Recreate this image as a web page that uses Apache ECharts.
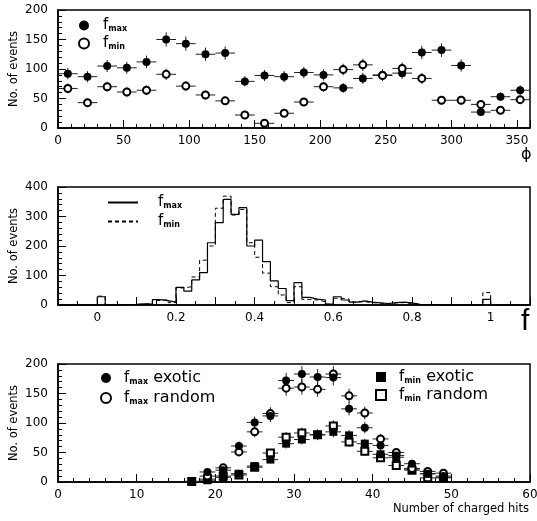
<!DOCTYPE html>
<html>
<head>
<meta charset="utf-8">
<script src="https://cdn.jsdelivr.net/npm/echarts@6/dist/echarts.min.js"></script>
<style>
  html, body { margin: 0; padding: 0; background: #fff; }
  #main { width: 537px; height: 521px; }
</style>
</head>
<body>
<div id="main"></div>
<script>
// panel 1 : azimuth distribution, 15 degree bins
var phiBins = [7.5, 22.5, 37.5, 52.5, 67.5, 82.5, 97.5, 112.5, 127.5, 142.5, 157.5, 172.5,
               187.5, 202.5, 217.5, 232.5, 247.5, 262.5, 277.5, 292.5, 307.5, 322.5, 337.5, 352.5];
var phiFmax = [92, 87, 105, 102, 112, 150, 143, 125, 127, 79, 89, 87,
               94, 90, 68, 84, 90, 93, 128, 132, 106, 27, 53, 64];
var phiFmin = [67, 43, 70, 61, 64, 91, 71, 56, 46, 22, 8, 25,
               44, 70, 99, 107, 89, 101, 84, 47, 47, 40, 30, 48];

// panel 2 : f histogram, bins of 0.02 starting at -0.1
var fBinStart = -0.1, fBinWidth = 0.02;
var fmaxCounts = [0, 0, 0, 0, 0,
                  28, 0, 0, 1, 2, 4, 3, 18, 15, 10,
                  60, 47, 85, 110, 211, 279, 358, 307, 330, 200,
                  220, 147, 82, 56, 15, 76, 26, 20, 17, 3,
                  28, 17, 10, 14, 10, 7, 5, 8, 10, 7,
                  2, 1, 1, 0, 0, 0, 0, 0, 0, 19,
                  0, 0, 0, 0, 0];
var fminCounts = [0, 0, 0, 0, 0,
                  30, 0, 0, 1, 2, 3, 4, 15, 18, 8,
                  58, 62, 95, 152, 200, 328, 369, 305, 324, 211,
                  162, 108, 62, 34, 8, 62, 19, 17, 11, 3,
                  23, 20, 10, 11, 8, 6, 5, 7, 8, 5,
                  2, 1, 0, 0, 0, 0, 0, 0, 0, 42,
                  0, 0, 0, 0, 0];

// panel 3 : number of charged hits, bins of 2
var hitBins    = [13, 15, 17, 19, 21, 23, 25, 27, 29, 31, 33, 35, 37, 39, 41, 43, 45, 47, 49];
var fmaxExotic = [null, null, null, 17, 20, 61, 101, 112, 172, 183, 178, 177, 124, 92, 62, 45, 31, 14, 10];
var fmaxRandom = [null, null, null, 10, 24, 51, 85, 116, 159, 161, 157, 183, 146, 117, 73, 50, 23, 18, 15];
var fminExotic = [null, null, 1, 3, 8, 14, 27, 38, 65, 72, 80, 85, 79, 65, 47, 42, 22, 14, 8];
var fminRandom = [null, null, 1, 5, 10, 12, 25, 49, 76, 83, 80, 95, 68, 52, 41, 28, 20, 7, 7];

var FONT = 'DejaVu Sans';

function pts(xs, ys) {
    var out = [];
    for (var i = 0; i < xs.length; i++) {
        if (ys[i] != null) out.push([xs[i], ys[i], Math.sqrt(ys[i])]); // poisson error
    }
    return out;
}

function histo(counts) {
    var out = [];
    for (var i = 0; i < counts.length; i++) out.push([fBinStart + i * fBinWidth, counts[i]]);
    out.push([fBinStart + counts.length * fBinWidth, counts[counts.length - 1]]);
    return out;
}

function errRender(xHalf) {
    return function (params, api) {
        var x = api.value(0), y = api.value(1), e = api.value(2);
        var l = api.coord([x - xHalf, y]), r = api.coord([x + xHalf, y]);
        var t = api.coord([x, y + e]), b = api.coord([x, Math.max(y - e, 0)]);
        var st = { stroke: '#222', lineWidth: 1 };
        return {
            type: 'group',
            children: [
                { type: 'line', shape: { x1: l[0], y1: l[1], x2: r[0], y2: r[1] }, style: st },
                { type: 'line', shape: { x1: t[0], y1: t[1], x2: b[0], y2: b[1] }, style: st }
            ]
        };
    };
}

function xAxisCfg(idx, min, max, interval, fmt) {
    return {
        gridIndex: idx, type: 'value', min: min, max: max, interval: interval,
        axisLine: { onZero: false, lineStyle: { color: '#000', width: 1.5 } },
        axisTick: { inside: true, length: 8, lineStyle: { color: '#000' } },
        minorTick: { show: true, splitNumber: 5, length: 4, lineStyle: { color: '#000' } },
        axisLabel: { color: '#000', fontFamily: FONT, fontSize: 12, margin: 7, formatter: fmt },
        splitLine: { show: false }
    };
}

function yAxisCfg(idx, max, interval) {
    return {
        gridIndex: idx, type: 'value', min: 0, max: max, interval: interval,
        name: 'No. of events', nameLocation: 'middle', nameGap: 38, nameMoveOverlap: false,
        nameTextStyle: { color: '#000', fontFamily: FONT, fontSize: 11.5 },
        axisLine: { show: true, onZero: false, lineStyle: { color: '#000', width: 1.5 } },
        axisTick: { inside: true, length: 8, lineStyle: { color: '#000' } },
        minorTick: { show: true, splitNumber: 5, length: 4, lineStyle: { color: '#000' } },
        axisLabel: { color: '#000', fontFamily: FONT, fontSize: 12, margin: 10 },
        splitLine: { show: false }
    };
}

var names = {
    'p_fmax': '{f|f}{s|max}', 'p_fmin': '{f|f}{s|min}',
    'h_fmax': '{f|f}{s|max}', 'h_fmin': '{f|f}{s|min}',
    'fmax exotic': '{f|f}{s|max}{t| exotic}', 'fmax random': '{f|f}{s|max}{t| random}',
    'fmin exotic': '{f|f}{s|min}{t| exotic}', 'fmin random': '{f|f}{s|min}{t| random}'
};
var rich = {
    f: { fontFamily: FONT, fontSize: 15, color: '#000' },
    s: { fontFamily: FONT, fontSize: 8, fontWeight: 'bold', color: '#000', padding: [7, 0, 0, 0] },
    t: { fontFamily: FONT, fontSize: 16, color: '#000' }
};
function legendCfg(data, left, top, w, h, gap, pad) {
    return {
        data: data, left: left, top: top, orient: 'vertical', padding: 0,
        itemWidth: w, itemHeight: h, itemGap: gap, selectedMode: false,
        formatter: function (n) { return names[n]; },
        textStyle: { rich: rich, padding: [0, 0, 0, pad] }
    };
}

function gridCfg(top) {
    return { left: 58, right: 7, top: top, height: 118, show: true, borderColor: '#000', borderWidth: 1.5,
             containLabel: false, outerBoundsMode: 'none' };
}

var chart = echarts.init(document.getElementById('main'));
var midLegend = legendCfg(['h_fmax', 'h_fmin'], 107, 195, 30, 10, 4, 15);
midLegend.itemStyle = { opacity: 0 };

var option = {
    animation: false,
    backgroundColor: '#fff',
    grid: [gridCfg(10), gridCfg(187), gridCfg(364)],
    xAxis: [
        xAxisCfg(0, 0, 360, 50, function (v) { return v === 360 ? '' : v; }),
        (function () {
            var a = xAxisCfg(1, -0.1, 1.1, 0.1, function (v) {
                var r = Math.round(v * 10) / 10;
                if (Math.abs(r * 5 - Math.round(r * 5)) > 1e-6 || r < 0 || r > 1) return '';
                return String(r);
            });
            a.minorTick.splitNumber = 2;
            return a;
        })(),
        xAxisCfg(2, 0, 60, 10)
    ],
    yAxis: [
        yAxisCfg(0, 200, 50),
        yAxisCfg(1, 400, 100),
        yAxisCfg(2, 200, 50)
    ],
    legend: [
        legendCfg(['p_fmax', 'p_fmin'], 78, 18, 10, 10, 3, 9),
        midLegend,
        legendCfg(['fmax exotic', 'fmax random'], 100, 370, 10, 10, 4, 8),
        legendCfg(['fmin exotic', 'fmin random'], 375, 369, 10, 10, 2, 8)
    ],
    graphic: [
        { type: 'text', left: 521, top: 147, style: { text: 'ϕ', font: '16px "DejaVu Sans"', fill: '#000' } },
        { type: 'text', left: 521, top: 307, style: { text: 'f', font: '30px "Liberation Sans"', fill: '#000' } },
        { type: 'text', right: 8, top: 503, style: { text: 'Number of charged hits', font: '11.5px "DejaVu Sans"', fill: '#000' } }
    ],
    series: [
        { type: 'custom', xAxisIndex: 0, yAxisIndex: 0, z: 1, renderItem: errRender(7.5), data: pts(phiBins, phiFmax) },
        { type: 'custom', xAxisIndex: 0, yAxisIndex: 0, z: 1, renderItem: errRender(7.5), data: pts(phiBins, phiFmin) },
        { name: 'p_fmax', type: 'scatter', xAxisIndex: 0, yAxisIndex: 0, z: 3, symbol: 'circle', symbolSize: 8,
          itemStyle: { color: '#000', opacity: 1 }, data: pts(phiBins, phiFmax) },
        { name: 'p_fmin', type: 'scatter', xAxisIndex: 0, yAxisIndex: 0, z: 3, symbol: 'emptyCircle', symbolSize: 7,
          itemStyle: { color: '#000', borderWidth: 1, opacity: 1 }, data: pts(phiBins, phiFmin) },

        { name: 'h_fmax', type: 'line', xAxisIndex: 1, yAxisIndex: 1, step: 'end', symbol: 'none',
          lineStyle: { color: '#000', width: 1.2 }, itemStyle: { color: '#000' }, data: histo(fmaxCounts) },
        { name: 'h_fmin', type: 'line', xAxisIndex: 1, yAxisIndex: 1, step: 'end', symbol: 'none',
          lineStyle: { color: '#000', width: 1, type: [4, 3] }, itemStyle: { color: '#000' }, data: histo(fminCounts) },

        { type: 'custom', xAxisIndex: 2, yAxisIndex: 2, z: 1, renderItem: errRender(1), data: pts(hitBins, fminRandom) },
        { type: 'custom', xAxisIndex: 2, yAxisIndex: 2, z: 1, renderItem: errRender(1), data: pts(hitBins, fminExotic) },
        { type: 'custom', xAxisIndex: 2, yAxisIndex: 2, z: 1, renderItem: errRender(1), data: pts(hitBins, fmaxRandom) },
        { type: 'custom', xAxisIndex: 2, yAxisIndex: 2, z: 1, renderItem: errRender(1), data: pts(hitBins, fmaxExotic) },
        { name: 'fmin random', type: 'scatter', xAxisIndex: 2, yAxisIndex: 2, z: 3, symbol: 'emptyRect', symbolSize: 7,
          itemStyle: { color: '#000', borderWidth: 1, opacity: 1 }, data: pts(hitBins, fminRandom) },
        { name: 'fmin exotic', type: 'scatter', xAxisIndex: 2, yAxisIndex: 2, z: 3, symbol: 'rect', symbolSize: 8,
          itemStyle: { color: '#000', opacity: 1 }, data: pts(hitBins, fminExotic) },
        { name: 'fmax random', type: 'scatter', xAxisIndex: 2, yAxisIndex: 2, z: 3, symbol: 'emptyCircle', symbolSize: 7,
          itemStyle: { color: '#000', borderWidth: 1, opacity: 1 }, data: pts(hitBins, fmaxRandom) },
        { name: 'fmax exotic', type: 'scatter', xAxisIndex: 2, yAxisIndex: 2, z: 3, symbol: 'circle', symbolSize: 8,
          itemStyle: { color: '#000', opacity: 1 }, data: pts(hitBins, fmaxExotic) }
    ]
};
chart.setOption(option);
</script>
</body>
</html>
